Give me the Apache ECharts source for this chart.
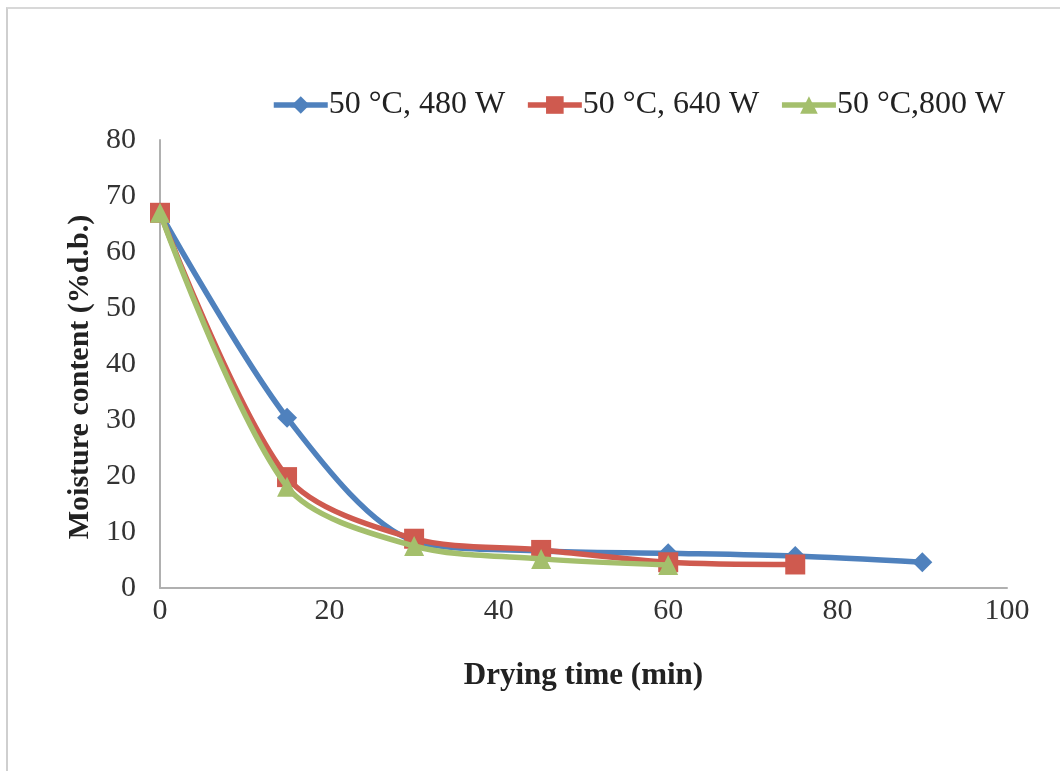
<!DOCTYPE html>
<html>
<head>
<meta charset="utf-8">
<script src="https://cdn.jsdelivr.net/npm/echarts@6/dist/echarts.min.js"></script>
<style>
  html, body { margin: 0; padding: 0; background: #fff; }
  #frame { position: absolute; left: 6px; top: 7px; width: 1060px; height: 771px;
           border-left: 2px solid #cfcfcf; border-top: 2px solid #d8d8d8; }
  #chart { position: absolute; left: 0; top: 0; width: 1060px; height: 771px; }
</style>
</head>
<body>
<div id="frame"></div>
<div id="chart"></div>
<script>
// drying time (min) and moisture content (% d.b.)
const time480 = [0, 15, 30, 45, 60, 75, 90];
const moist480 = [67, 30.4, 8.4, 6.6, 6.2, 5.7, 4.6];
const time640 = [0, 15, 30, 45, 60, 75];
const moist640 = [67, 19.8, 8.8, 6.8, 4.6, 4.2];
const time800 = [0, 15, 30, 45, 60];
const moist800 = [67, 18.1, 7.5, 5.2, 4.1];
const seriesNames = ["50 °C, 480 W", "50 °C, 640 W", "50 °C,800 W"];

const pairs = (xs, ys) => xs.map((x, i) => [x, ys[i]]);
const serif = "'Liberation Serif', 'DejaVu Serif', serif";

const chart = echarts.init(document.getElementById("chart"), null, { renderer: "canvas" });

const lineSeries = (name, data, color, symbol, size, z) => ({
  name,
  type: "line",
  data,
  smooth: 0.3,
  symbol,
  symbolSize: size,
  z,
  lineStyle: { color, width: 5.5 },
  itemStyle: { color, borderWidth: 0 },
});

chart.setOption({
  animation: false,
  legend: {
    top: 84,
    left: 266,
    itemGap: 20,
    itemWidth: 54,
    itemHeight: 22,
    lineStyle: { width: 5.5 },
    textStyle: { fontFamily: serif, fontSize: 32, color: "#222", padding: [0, 0, 0, -4] },
    data: seriesNames,
  },
  grid: { left: 160, right: 53, top: 140, bottom: 183 },
  xAxis: {
    type: "value",
    min: 0,
    max: 100,
    interval: 20,
    name: "Drying time (min)",
    nameLocation: "middle",
    nameGap: 72,
    nameTextStyle: { fontFamily: serif, fontSize: 31, fontWeight: "bold", color: "#222" },
    axisLine: { lineStyle: { color: "#b0b0b0", width: 2 } },
    axisTick: { show: false },
    splitLine: { show: false },
    axisLabel: { fontFamily: serif, fontSize: 30, color: "#333", margin: 8 },
  },
  yAxis: {
    type: "value",
    min: 0,
    max: 80,
    interval: 10,
    name: "Moisture content (%d.b.)",
    nameLocation: "middle",
    nameGap: 64,
    nameTextStyle: { fontFamily: serif, fontSize: 30, fontWeight: "bold", color: "#222", padding: [0, 26, 0, 0] },
    axisLine: { show: true, lineStyle: { color: "#b0b0b0", width: 2 } },
    axisTick: { show: false },
    splitLine: { show: false },
    axisLabel: { fontFamily: serif, fontSize: 30, color: "#333", margin: 24 },
  },
  series: [
    lineSeries(seriesNames[0], pairs(time480, moist480), "#4f81bd", "diamond", 20, 2),
    lineSeries(seriesNames[1], pairs(time640, moist640), "#cf5a4f", "rect", 20, 3),
    lineSeries(seriesNames[2], pairs(time800, moist800), "#a4bf6c", "triangle", 20, 4),
  ],
});
</script>
</body>
</html>
